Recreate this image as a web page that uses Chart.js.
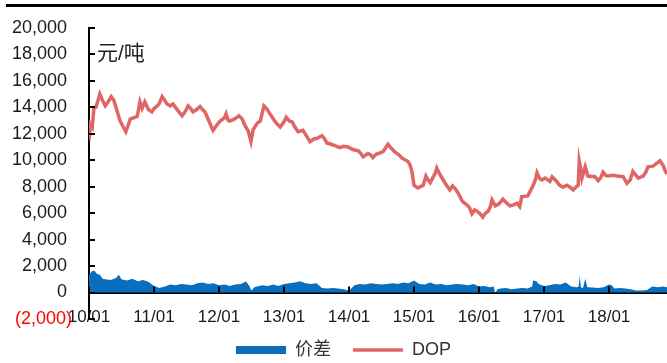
<!DOCTYPE html>
<html lang="zh">
<head>
    <meta charset="UTF-8">
    <title>DOP 价格与价差</title>
    <style>
        body {
            margin: 0;
            background: #fff;
        }
        #wrap {
            position: relative;
            width: 667px;
            height: 363px;
        }
        #topline {
            position: absolute;
            left: 6px;
            right: 0;
            top: 4px;
            height: 3px;
            background: #000;
        }
    </style>
</head>
<body>
    <div id="wrap">
        <canvas id="chart" width="667" height="363"></canvas>
        <div id="topline"></div>
    </div>

    <script src="https://cdn.jsdelivr.net/npm/chart.js"></script>
    <script>
        // months counted from 2010-01
        const xTickMonths = [0, 12, 24, 36, 48, 60, 72, 84, 96];
        const xTickLabels = ['10/01', '11/01', '12/01', '13/01', '14/01', '15/01', '16/01', '17/01', '18/01'];
        const unitLabel = '元/吨';

        const dopMonth = [
            0.0, 0.3, 0.6, 0.9, 1.3, 2.0, 2.5, 3.0, 3.5, 4.1, 4.6, 5.2, 5.7, 6.2, 6.8, 7.2, 7.6, 8.2, 8.9, 9.4,
            9.8, 10.3, 11.0, 11.6, 12.0, 12.6, 13.0, 13.5, 14.0, 14.4, 15.0, 15.5, 16.3, 17.2, 17.8, 18.3, 18.8, 19.2, 19.8, 20.5,
            21.0, 21.4, 22.2, 22.9, 23.5, 24.2, 25.0, 25.3, 25.7, 26.0, 26.8, 27.7, 28.3, 28.8, 29.4, 29.9, 30.3, 30.6, 31.1, 31.6,
            32.0, 32.3, 32.8, 33.4, 34.3, 34.8, 35.3, 36.0, 36.4, 37.0, 37.5, 38.0, 38.6, 39.5, 40.2, 40.8, 41.5, 42.1, 43.0, 43.5,
            43.9, 44.7, 45.4, 46.3, 47.0, 47.8, 48.7, 49.7, 50.2, 50.6, 51.5, 52.0, 52.4, 53.0, 53.4, 54.3, 55.2, 55.8, 56.5, 57.2,
            57.8, 58.9, 59.3, 59.6, 60.0, 60.7, 61.2, 61.7, 62.2, 62.6, 63.0, 63.9, 64.2, 64.8, 65.4, 66.0, 66.6, 67.1, 67.6, 68.3,
            68.9, 69.8, 70.2, 70.7, 71.2, 71.6, 72.2, 72.7, 73.2, 73.7, 74.1, 74.4, 75.0, 75.7, 76.4, 77.0, 77.7, 78.3, 79.0, 79.5,
            79.9, 81.0, 81.5, 82.0, 82.4, 82.7, 83.2, 83.6, 84.2, 85.1, 85.5, 86.2, 86.9, 87.5, 88.2, 88.8, 89.4, 90.0, 90.3, 90.5,
            90.8, 91.0, 91.6, 92.1, 93.4, 94.0, 94.5, 94.9, 95.4, 95.8, 96.7, 97.5, 98.6, 99.3, 99.9, 100.4, 101.4, 102.3, 102.8, 103.2,
            104.1, 104.6, 105.4, 106.0, 106.3, 106.7
        ];
        const dopPrice = [
            11500, 12700, 12500, 13900, 14000, 15000, 14500, 14100, 14400, 14800, 14500, 13700, 13000, 12600, 12150, 12600, 13100, 13200, 13300, 14400,
            13900, 14400, 13800, 13650, 13900, 14100, 14300, 14800, 14500, 14250, 14100, 14250, 13800, 13350, 13700, 14100, 13900, 13650, 13800, 14050,
            13800, 13650, 12900, 12250, 12600, 12950, 13200, 13500, 13000, 12950, 13100, 13350, 13100, 12600, 12200, 11400, 12300, 12500, 12800, 12950,
            13600, 14100, 13900, 13500, 12950, 12700, 12500, 12900, 13250, 12950, 12900, 12500, 12150, 12250, 11800, 11400, 11600, 11650, 11850, 11600,
            11300, 11200, 11100, 10950, 11050, 11000, 10800, 10700, 10500, 10250, 10500, 10400, 10200, 10450, 10500, 10650, 11200, 10900, 10600, 10400,
            10150, 9900, 9600, 9150, 8100, 7900, 8000, 8100, 8800, 8500, 8300, 9000, 9400, 8900, 8500, 8100, 7750, 8050, 7850, 7400,
            6900, 6600, 6450, 5950, 6250, 6150, 5950, 5700, 6000, 6150, 6500, 7000, 6550, 6700, 7050, 6800, 6550, 6600, 6750, 6500,
            7250, 7300, 7700, 8100, 8500, 9050, 8600, 8500, 8650, 8400, 8750, 8450, 8100, 7950, 8100, 7950, 7750, 8000, 8100, 9950,
            9300, 8650, 9500, 8800, 8750, 8450, 8700, 9100, 8850, 8800, 8850, 8800, 8750, 8250, 8500, 9150, 8650, 8800, 9100, 9500,
            9550, 9700, 9950, 9600, 9250, 8950
        ];

        const spreadMonth = [
            0, 0.5, 1, 1.5, 2, 2.5, 3, 4, 5, 5.5, 6, 7, 8, 9, 10, 11, 12, 13, 14, 15,
            16, 17, 18, 19, 20, 21, 22, 23, 24, 25, 26, 27, 28, 29, 29.6, 30, 30.5, 31, 32, 33,
            34, 35, 36, 37, 38, 39, 40, 41, 42, 43, 44, 45, 46, 47, 48, 48.5, 49, 50, 51, 52,
            53, 54, 55, 56, 57, 58, 59, 60, 61, 62, 63, 64, 65, 66, 67, 68, 69, 70, 71, 72,
            73, 74, 74.7, 75, 75.4, 76, 77, 78, 79, 80, 81, 81.8, 82, 82.6, 83, 84, 85, 86, 87, 88,
            89, 90, 90.4, 90.6, 90.8, 91.2, 91.6, 92, 93, 94, 95, 96, 96.5, 97, 98, 99, 100, 101, 102, 103,
            104, 105, 106, 106.7
        ];
        const spreadValue = [
            1300, 1600, 1650, 1400, 1350, 1050, 1000, 950, 1100, 1350, 1000, 900, 1050, 850, 950, 800, 500, 350, 450, 600,
            550, 650, 600, 550, 700, 750, 650, 700, 550, 600, 500, 600, 650, 825, 500, 150, 400, 450, 550, 500,
            600, 500, 650, 700, 750, 850, 700, 650, 700, 350, 300, 350, 300, 250, 150, 350, 550, 650, 600, 700,
            650, 600, 650, 700, 650, 750, 700, 900, 650, 600, 750, 600, 650, 550, 600, 650, 600, 550, 650, 450,
            500, 400, 450, -50, 250, 300, 350, 250, 300, 350, 300, 450, 900, 850, 650, 500, 550, 650, 600, 750,
            450, 400, 450, 1275, 400, 350, 1050, 400, 375, 350, 400, 600, 550, 300, 350, 300, 250, 150, 150, 200,
            450, 400, 450, 400
        ];

        const dopColor = '#E06666';
        const spreadColor = '#0A6EBD';

        Chart.defaults.font.family = "'Liberation Sans', Arial, 'Noto Sans CJK SC', sans-serif";
        Chart.defaults.color = '#1a1a1a';

        const axisDecor = {
            id: 'axisDecor',
            afterLayout(chart) {
                // nudge the legend a little to the right, like the original
                chart.legend.left += 20;
            },
            afterDraw(chart) {
                const { ctx, chartArea, scales: { x, y } } = chart;
                ctx.save();
                ctx.strokeStyle = '#000';
                ctx.lineWidth = 2;
                ctx.beginPath();
                y.ticks.forEach(t => {
                    const py = Math.round(y.getPixelForValue(t.value));
                    ctx.moveTo(chartArea.left, py);
                    ctx.lineTo(chartArea.left + 6, py);
                });
                const zero = y.getPixelForValue(0);
                x.ticks.forEach(t => {
                    const px = Math.round(x.getPixelForValue(t.value));
                    ctx.moveTo(px, zero);
                    ctx.lineTo(px, zero - 6);
                });
                ctx.stroke();
                ctx.fillStyle = '#222';
                ctx.font = "21px 'Liberation Sans', 'Noto Sans CJK SC', sans-serif";
                ctx.textBaseline = 'middle';
                ctx.fillText(unitLabel, chartArea.left + 8, y.getPixelForValue(18000));
                ctx.restore();
            }
        };

        new Chart(document.getElementById('chart'), {
            type: 'line',
            data: {
                datasets: [
                    {
                        label: '价差',
                        data: spreadMonth.map((m, i) => ({ x: m, y: spreadValue[i] })),
                        backgroundColor: spreadColor,
                        borderColor: spreadColor,
                        borderWidth: 0,
                        fill: 'origin',
                        pointRadius: 0,
                        tension: 0,
                        pointStyle: 'rect'
                    },
                    {
                        label: 'DOP',
                        data: dopMonth.map((m, i) => ({ x: m, y: dopPrice[i] })),
                        borderColor: dopColor,
                        backgroundColor: dopColor,
                        borderWidth: 3.5,
                        fill: false,
                        pointRadius: 0,
                        tension: 0,
                        pointStyle: 'line'
                    }
                ]
            },
            options: {
                responsive: false,
                animation: false,
                layout: {
                    padding: { top: 20, left: 0, right: 0, bottom: -6 }
                },
                plugins: {
                    legend: {
                        position: 'bottom',
                        labels: {
                            usePointStyle: true,
                            pointStyleWidth: 50,
                            boxHeight: 8,
                            padding: 22,
                            color: '#333',
                            font: { size: 18 }
                        }
                    },
                    tooltip: { enabled: false }
                },
                scales: {
                    x: {
                        type: 'linear',
                        position: { y: 0 },
                        min: 0,
                        max: 106.7,
                        z: 1,
                        grid: { display: false, drawTicks: false },
                        border: { display: true, color: '#000', width: 2 },
                        afterBuildTicks: s => { s.ticks = xTickMonths.map(v => ({ value: v })); },
                        ticks: {
                            maxRotation: 0,
                            autoSkip: false,
                            padding: 15,
                            color: '#1a1a1a',
                            font: { size: 17 },
                            callback: (v, i) => xTickLabels[i]
                        }
                    },
                    y: {
                        min: -2000,
                        max: 20000,
                        z: 1,
                        grid: { display: false, drawTicks: false },
                        border: { display: true, color: '#000', width: 2 },
                        afterFit: s => { s.width = 89; },
                        ticks: {
                            stepSize: 2000,
                            padding: 17,
                            font: { size: 18 },
                            color: c => c.tick.value < 0 ? '#FF0000' : '#1a1a1a',
                            callback: v => v < 0
                                ? '(' + Math.abs(v).toLocaleString('en-US') + ')'
                                : v.toLocaleString('en-US') + ' '
                        }
                    }
                }
            },
            plugins: [axisDecor]
        });
    </script>
</body>
</html>
